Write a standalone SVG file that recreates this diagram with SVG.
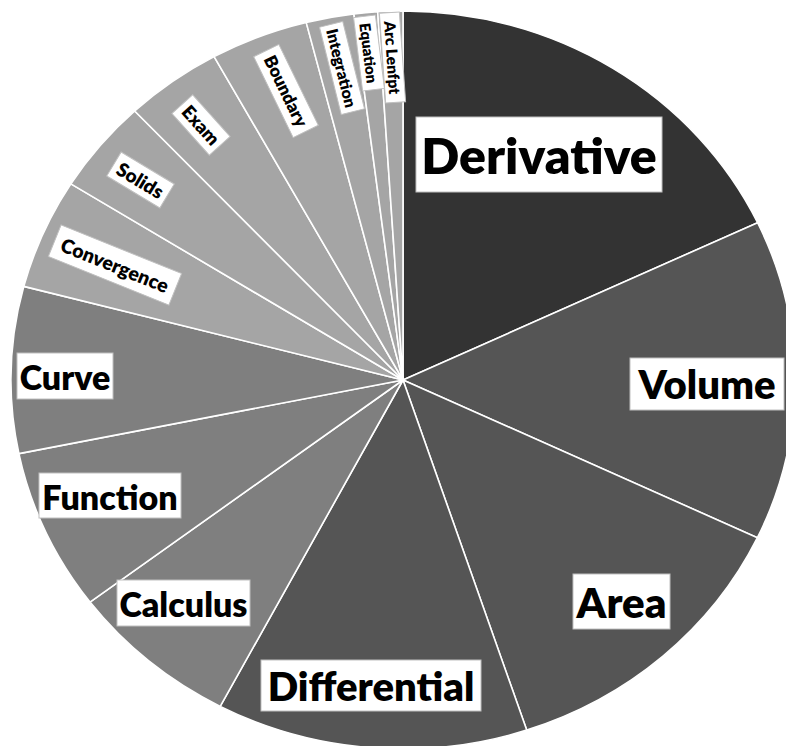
<svg xmlns="http://www.w3.org/2000/svg" width="786" height="746" viewBox="0 0 786 746">
<style>
.s{stroke:#ffffff;stroke-width:1.6;stroke-linejoin:round}
.d1{fill:#333333}.d2{fill:#555555}.d3{fill:#7f7f7f}.d4{fill:#a5a5a5}
.lb{fill:#ffffff;stroke:#bfbfbf;stroke-width:1}
.t{font-family:Lato,"Liberation Sans",sans-serif;font-weight:800;fill:#000000;text-anchor:middle;dominant-baseline:central}
</style>
<rect width="786" height="746" fill="#ffffff"/>
<g id="slices">
<path id="s-derivative" class="s d1" d="M403 380 L403 11 A392 369 0 0 1 757.6 222.7 Z"/>
<path id="s-volume" class="s d2" d="M403 380 L757.6 222.7 A392 369 0 0 1 757.4 537.7 Z"/>
<path id="s-area" class="s d2" d="M403 380 L757.4 537.7 A392 369 0 0 1 526.7 730.1 Z"/>
<path id="s-differential" class="s d2" d="M403 380 L526.7 730.1 A392 369 0 0 1 220.2 706.4 Z"/>
<path id="s-calculus" class="s d3" d="M403 380 L220.2 706.4 A392 369 0 0 1 90 602.1 Z"/>
<path id="s-function" class="s d3" d="M403 380 L90 602.1 A392 369 0 0 1 18.9 453.6 Z"/>
<path id="s-curve" class="s d3" d="M403 380 L18.9 453.6 A392 369 0 0 1 23.8 286.4 Z"/>
<path id="s-convergence" class="s d4" d="M403 380 L23.8 286.4 A392 369 0 0 1 70.9 183.9 Z"/>
<path id="s-solids" class="s d4" d="M403 380 L70.9 183.9 A392 369 0 0 1 134.7 111 Z"/>
<path id="s-exam" class="s d4" d="M403 380 L134.7 111 A392 369 0 0 1 214.1 56.6 Z"/>
<path id="s-boundary" class="s d4" d="M403 380 L214.1 56.6 A392 369 0 0 1 306.2 22.4 Z"/>
<path id="s-integration" class="s d4" d="M403 380 L306.2 22.4 A392 369 0 0 1 353.9 13.9 Z"/>
<path id="s-equation" class="s d4" d="M403 380 L353.9 13.9 A392 369 0 0 1 377.7 11.8 Z"/>
<path id="s-arclen" class="s d4" d="M403 380 L377.7 11.8 A392 369 0 0 1 403 11 Z"/>
</g>
<g id="labels">
<g id="l-derivative"><rect class="lb" x="416" y="117" width="246" height="75"/><text class="t" x="539" y="155" font-size="50">Derivative</text></g>
<g id="l-volume"><rect class="lb" x="630" y="358" width="154" height="52"/><text class="t" x="707" y="384" font-size="40">Volume</text></g>
<g id="l-area"><rect class="lb" x="573" y="574" width="97" height="55"/><text class="t" x="621.5" y="602" font-size="42">Area</text></g>
<g id="l-differential"><rect class="lb" x="261" y="660" width="220" height="51"/><text class="t" x="371" y="686" font-size="40">Differential</text></g>
<g id="l-calculus"><rect class="lb" x="117" y="580" width="133" height="46"/><text class="t" x="183.5" y="603" font-size="34">Calculus</text></g>
<g id="l-function"><rect class="lb" x="39" y="473" width="142" height="45"/><text class="t" x="110" y="496" font-size="34">Function</text></g>
<g id="l-curve"><rect class="lb" x="17" y="353" width="96" height="46"/><text class="t" x="65" y="376" font-size="34">Curve</text></g>
<g id="l-convergence" transform="translate(115 265) rotate(22)"><rect class="lb" x="-65" y="-17" width="130" height="34"/><text class="t" x="0" y="0" font-size="19.5">Convergence</text></g>
<g id="l-solids" transform="translate(140.5 180) rotate(31)"><rect class="lb" x="-31" y="-14" width="62" height="28"/><text class="t" x="0" y="0" font-size="19">Solids</text></g>
<g id="l-exam" transform="translate(201 125) rotate(48)"><rect class="lb" x="-28" y="-14" width="56" height="28"/><text class="t" x="0" y="0" font-size="18.5">Exam</text></g>
<g id="l-boundary" transform="translate(286 91) rotate(64)"><rect class="lb" x="-45" y="-14" width="90" height="28"/><text class="t" x="0" y="0" font-size="17.5">Boundary</text></g>
<g id="l-integration" transform="translate(342 68) rotate(76)"><rect class="lb" x="-45" y="-12" width="90" height="24"/><text class="t" x="0" y="0" font-size="16">Integration</text></g>
<g id="l-equation" transform="translate(369 53) rotate(83)"><rect class="lb" x="-37" y="-11" width="74" height="22"/><text class="t" x="0" y="0" font-size="15">Equation</text></g>
<g id="l-arclen" transform="translate(392.5 57.5) rotate(86)"><rect class="lb" x="-45" y="-10" width="90" height="20"/><text class="t" x="0" y="0" font-size="15.5">Arc Lenfpt</text></g>
</g>
</svg>
